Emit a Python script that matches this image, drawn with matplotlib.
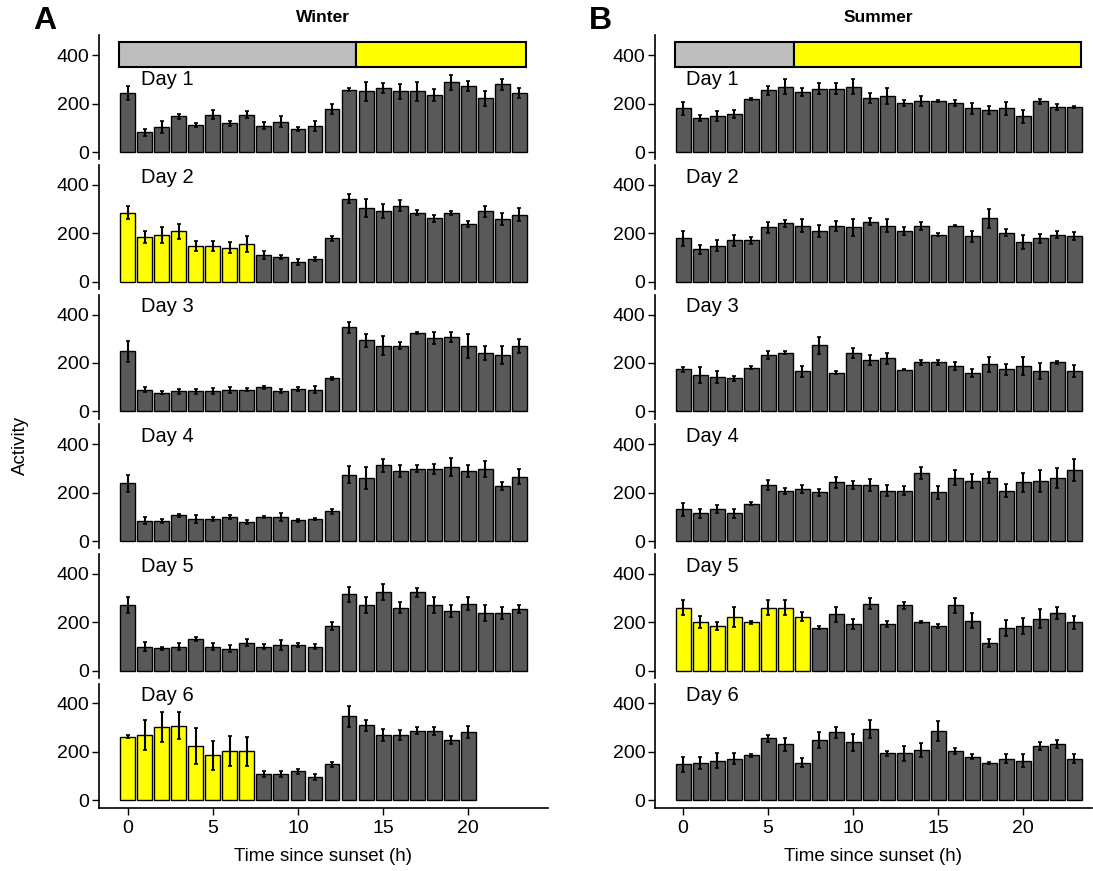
import numpy as np
import matplotlib
matplotlib.use("Agg")
import matplotlib.pyplot as plt
from matplotlib.patches import Rectangle

plt.rcParams['font.family'] = ['Liberation Sans', 'DejaVu Sans']

# hourly activity (mean) and error, winter (A) and summer (B), days 1-6
winter_mean = [
    [245, 82, 104, 149, 111, 155, 119, 155, 109, 126, 96, 109, 178, 259, 251, 266, 251, 251, 238, 288, 274, 222, 281, 245],
    [285, 186, 193, 208, 148, 148, 141, 158, 110, 104, 82, 96, 179, 344, 305, 292, 315, 285, 262, 285, 240, 292, 260, 278],
    [248, 90, 77, 84, 84, 84, 90, 90, 100, 86, 93, 90, 137, 347, 293, 271, 271, 323, 303, 308, 271, 241, 234, 271],
    [238, 84, 84, 106, 91, 91, 98, 77, 98, 98, 85, 91, 123, 274, 259, 312, 288, 298, 298, 305, 291, 298, 228, 266],
    [270, 99, 92, 99, 130, 99, 91, 115, 98, 106, 106, 98, 183, 315, 269, 323, 260, 323, 269, 246, 277, 238, 238, 253],
    [263, 270, 301, 308, 225, 186, 203, 203, 109, 109, 119, 95, 148, 347, 309, 270, 270, 287, 287, 249, 280],
]
winter_err = [
    [30, 14, 25, 10, 8, 18, 10, 15, 15, 22, 8, 22, 20, 8, 38, 20, 30, 38, 25, 30, 20, 30, 22, 20],
    [27, 25, 32, 30, 20, 22, 22, 33, 16, 8, 13, 8, 10, 20, 37, 30, 22, 10, 16, 8, 13, 23, 25, 27],
    [43, 10, 7, 10, 10, 12, 12, 6, 6, 8, 8, 15, 7, 22, 25, 40, 14, 4, 23, 20, 50, 30, 37, 30],
    [36, 14, 8, 6, 15, 9, 8, 8, 4, 16, 8, 6, 10, 35, 45, 27, 25, 15, 22, 36, 25, 33, 17, 31],
    [33, 18, 7, 15, 9, 15, 15, 14, 10, 20, 10, 10, 16, 30, 33, 33, 24, 20, 33, 24, 26, 31, 26, 16],
    [6, 62, 62, 56, 74, 60, 62, 60, 12, 12, 10, 12, 11, 44, 22, 24, 20, 14, 16, 16, 25],
]
summer_mean = [
    [181, 141, 151, 158, 219, 255, 270, 248, 263, 263, 270, 225, 233, 203, 210, 211, 203, 181, 174, 181, 149, 210, 188, 188],
    [179, 134, 149, 171, 171, 225, 241, 232, 210, 232, 225, 248, 232, 210, 232, 195, 232, 188, 262, 203, 164, 179, 195, 188],
    [174, 151, 144, 136, 181, 233, 243, 166, 273, 159, 241, 211, 219, 173, 203, 203, 188, 159, 195, 174, 188, 166, 203, 166],
    [131, 114, 131, 114, 154, 232, 208, 215, 201, 242, 232, 232, 208, 208, 280, 201, 262, 248, 262, 208, 242, 248, 262, 294],
    [260, 200, 183, 222, 200, 260, 260, 222, 177, 232, 193, 277, 193, 270, 200, 184, 270, 207, 115, 177, 184, 215, 239, 200],
    [148, 155, 164, 172, 186, 256, 232, 155, 248, 280, 239, 295, 193, 193, 208, 287, 203, 179, 155, 171, 164, 225, 232, 171],
]
summer_err = [
    [27, 14, 20, 18, 4, 20, 31, 17, 22, 23, 31, 21, 33, 14, 21, 5, 12, 24, 17, 27, 27, 10, 12, 4],
    [31, 18, 23, 23, 15, 24, 14, 27, 23, 21, 34, 14, 27, 17, 17, 6, 3, 22, 40, 15, 28, 18, 14, 16],
    [10, 32, 25, 12, 5, 18, 5, 22, 34, 6, 19, 20, 24, 3, 11, 10, 15, 15, 31, 22, 36, 32, 6, 25],
    [27, 19, 16, 19, 6, 22, 12, 18, 13, 24, 17, 25, 23, 19, 24, 27, 31, 29, 24, 27, 38, 45, 41, 46],
    [30, 26, 17, 40, 6, 30, 30, 19, 6, 31, 20, 21, 14, 15, 5, 10, 31, 30, 17, 33, 34, 41, 24, 27],
    [31, 24, 32, 22, 6, 14, 27, 19, 34, 24, 34, 38, 12, 33, 29, 42, 14, 10, 4, 19, 27, 16, 15, 19],
]
# hours with light exposure (yellow bars): (column, day index) -> number of hours
light_hours = {(0, 1): 8, (0, 5): 8, (1, 4): 8}
# length of night (h) for the top dark/light bar
night_len = [13.4, 6.5]
day_end = 23.4

titles = ["Winter", "Summer"]
letters = ["A", "B"]
day_labels = ["Day 1", "Day 2", "Day 3", "Day 4", "Day 5", "Day 6"]

W, H = 1093, 871
fig = plt.figure(figsize=(W / 100, H / 100), dpi=100)

col_left = [99, 655]
col_right = [548, 1092]
col_xlim = [(-1.7, 24.7), (-1.65, 24.05)]
lab_x = [0.75, 0.2]
panel_top0 = 35.5
panel_step = 129.6
panel_h = 124

for c, (means, errs) in enumerate([(winter_mean, winter_err), (summer_mean, summer_err)]):
    for d in range(6):
        top = panel_top0 + d * panel_step
        ax = fig.add_axes([col_left[c] / W, 1 - (top + panel_h) / H,
                           (col_right[c] - col_left[c]) / W, panel_h / H])
        vals = np.array(means[d])
        err = np.array(errs[d])
        hrs = np.arange(len(vals))
        nlight = light_hours.get((c, d), 0)
        colors = ['#ffff00' if h < nlight else '#595959' for h in hrs]
        ax.bar(hrs, vals, width=0.88, color=colors, edgecolor='black', linewidth=1.0, zorder=2)
        ax.errorbar(hrs, vals, yerr=err, fmt='none', ecolor='black', elinewidth=1.5,
                    capsize=1.5, capthick=1.2, zorder=3)
        ax.set_xlim(*col_xlim[c])
        ax.set_ylim(-30, 482)
        ax.set_yticks([0, 200, 400])
        ax.tick_params(axis='y', labelsize=14, length=5, width=1, pad=2)
        for s in ['top', 'right']:
            ax.spines[s].set_visible(False)
        ax.spines['left'].set_linewidth(1.2)
        if d < 5:
            ax.spines['bottom'].set_visible(False)
            ax.set_xticks([])
        else:
            ax.spines['bottom'].set_linewidth(1.2)
            ax.set_xticks([0, 5, 10, 15, 20])
            ax.tick_params(axis='x', labelsize=14, length=5, width=1, pad=4)
            ax.set_xlabel("Time since sunset (h)", fontsize=13.5, labelpad=8)
        if d == 0:
            ax.add_patch(Rectangle((-0.5, 350), night_len[c] + 0.5, 105,
                                   facecolor='#bebebe', edgecolor='black', linewidth=1.5, zorder=2))
            ax.add_patch(Rectangle((night_len[c], 350), day_end - night_len[c], 105,
                                   facecolor='#ffff00', edgecolor='black', linewidth=1.5, zorder=2))
            ax.text(lab_x[c], 300, day_labels[d], fontsize=14.5, ha='left', va='center')
        else:
            ax.text(lab_x[c], 432, day_labels[d], fontsize=14.5, ha='left', va='center')

fig.text(323 / W, 1 - 18 / H, titles[0], fontsize=12.5, fontweight='bold', ha='center', va='center')
fig.text(878 / W, 1 - 18 / H, titles[1], fontsize=12.5, fontweight='bold', ha='center', va='center')
fig.text(45 / W, 1 - 21 / H, letters[0], fontsize=23, fontweight='bold', ha='center', va='center')
fig.text(600 / W, 1 - 21 / H, letters[1], fontsize=23, fontweight='bold', ha='center', va='center')
fig.text(20 / W, 1 - 445 / H, "Activity", fontsize=13.5, rotation=90, ha='center', va='center')

fig.savefig("out.png", dpi=100)
